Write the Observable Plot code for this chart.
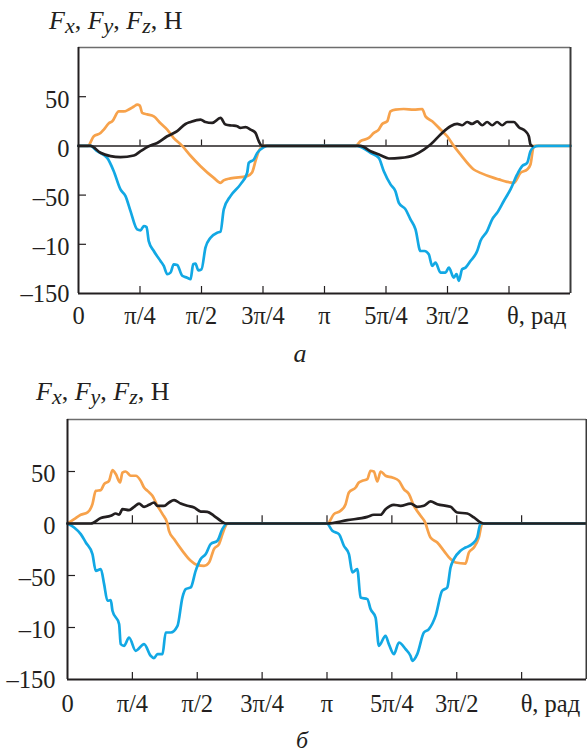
<!DOCTYPE html>
<html>
<head>
<meta charset="utf-8">
<script src="https://cdn.jsdelivr.net/npm/d3@7"></script>
<script src="https://cdn.jsdelivr.net/npm/@observablehq/plot@0.6"></script>
<style>
  body { margin: 0; background: #fff; }
  #wrap { position: relative; width: 587px; height: 756px; overflow: hidden;
          font-family: "Liberation Serif", "Times New Roman", serif; color: #231f20; background: #fff; }
  .title { position: absolute; font-size: 26px; line-height: 26px; white-space: nowrap; }
  .title i { font-style: italic; }
  .title sub { font-size: 22px; vertical-align: -4px; line-height: 0; font-style: italic; }
  .cap { position: absolute; font-style: italic; white-space: nowrap; transform: translateX(-50%); }
  .panel { position: absolute; left: 0; }
  .panel svg { overflow: visible; }
  .panel svg text {
    font-family: "Liberation Serif", "Times New Roman", serif !important;
    font-variant: normal !important;
  }
</style>
</head>
<body>
<div id="wrap">
  <div class="title" id="titleA" style="left:49px; top:8px;"></div>
  <div class="panel" id="panelA" style="top:0px;"></div>
  <div class="cap" id="capA" style="left:300px; top:341px; font-size:26px; line-height:26px;"></div>
  <div class="title" id="titleB" style="left:36px; top:379px;"></div>
  <div class="panel" id="panelB" style="top:372px;"></div>
  <div class="cap" id="capB" style="left:302px; top:728px; font-size:24px; line-height:24px;"></div>
</div>
<script>
// ---------- text ----------
const titleParts = [["F", "x"], ["F", "y"], ["F", "z"]];
const unitLabel = "Н";
const captions = ["а", "б"];
const xTickLabels = ["0", "π/4", "π/2", "3π/4", "π", "5π/4", "3π/2"];
const thetaLabel = "θ, рад";
const yTicks = [50, 0, -50, -100, -150];
const yTickLabels = ["50", "0", "–50", "–10", "–150"];
const yInnerTicks = [50, -50, -100];
const xDomain = [0, 2 * Math.PI];
const yDomain = [-150, 100];

// ---------- data: [angle in degrees, force in N] ----------
// panel а
const aOrange = [[0,0],[6.8,0],[11.2,9.8],[16.1,13],[18.5,16.6],[22.2,23],[24.7,25],[29.5,35],[33.1,35],[36.8,37],[40.5,40],[43,42],[44.9,41],[46.6,33.5],[50.3,32],[55.1,30],[60,23],[64.9,16.6],[69.7,8],[75.9,0],[82,-10],[89.3,-20.6],[99,-32.5],[103.9,-37.5],[106.2,-35],[111.2,-33],[123.4,-30.7],[127,-27],[129.5,-15.5],[131.9,-5.4],[135.6,0],[202.7,0],[206.3,4.8],[212.4,8.1],[216.1,13.2],[219.7,16.6],[222.2,22.3],[225.9,25],[228.3,35.2],[231.9,36.9],[238,37.5],[245.3,36.9],[251.5,37.5],[253.9,30],[258.8,25],[264.9,16.6],[269.8,9.8],[274.6,0],[279.5,-8.7],[289.2,-24],[294.1,-27.4],[303.9,-32.5],[307.5,-34],[313.6,-36.5],[318.5,-37.5],[323.4,-27.4],[328.3,-24],[330.7,-18.9],[332.7,-2],[333.2,0],[360,0]];
const aBlack = [[0,0],[8.8,0],[16.1,-7],[23.4,-10.4],[30.7,-11.5],[40.5,-9.8],[45.4,-5.4],[51.4,-0.3],[57.6,3],[64.9,9.8],[72.2,15],[78.3,22.3],[81.9,24.3],[89.3,26.8],[92.9,24.3],[97.8,23.3],[103.9,28.4],[107.6,21.7],[112.5,20.7],[116.1,20],[118.5,18.3],[122.2,19],[125.9,16.6],[129.5,13.2],[131.9,4.8],[134.4,0],[206.3,0],[213.7,-5.4],[221,-9.4],[227.1,-12.8],[235.6,-12.2],[245.3,-9.4],[252.7,-3.7],[257.6,1.4],[264.9,11.6],[272.2,20],[277.1,22.3],[280.7,21],[284.4,24.3],[288,22.3],[291.7,25],[295.4,21],[299,24.3],[302.7,21],[306.3,24.3],[310,21],[313.6,24.3],[318.5,24.3],[322.2,19],[327.1,14.9],[329.5,9.8],[330.7,1.4],[332,0]];
const aBlue = [[0,0],[8.8,0],[13.7,-5.4],[21,-12.2],[25.8,-25.7],[30.7,-44.2],[34.4,-51],[38,-66],[42.9,-84.8],[45.4,-85.8],[47.8,-81.4],[49.8,-82.5],[51.4,-96.7],[55.1,-106.8],[60,-117],[62.4,-122],[64.9,-130.4],[67.3,-128.8],[69.7,-120.3],[72.2,-121],[75.9,-132],[79.5,-133.9],[82,-135.5],[83.9,-120.3],[85.6,-119.7],[87.6,-126.4],[90,-125.4],[92.9,-103.4],[96.6,-93.3],[101.5,-88.2],[103.9,-87.2],[106.3,-64.5],[111.2,-51],[118.5,-39.1],[123.4,-27.4],[124.6,-17.2],[128.3,-13.8],[130.8,-7.1],[135.6,-1.3],[138.1,0],[203.9,0],[208.8,-2.7],[213.7,-7.1],[219.7,-12.2],[223.4,-25.7],[228.3,-39.1],[231.9,-46],[234.4,-57.8],[239.3,-64.5],[242.9,-74.6],[246.6,-84.8],[250.2,-106.8],[253.2,-106.8],[256.3,-110.1],[258.8,-122],[261.2,-118.7],[264.9,-128.8],[268.5,-128.8],[271,-123.7],[274.6,-133.9],[276.6,-130.4],[278.3,-137.2],[280.7,-125.4],[283.2,-123.7],[286.8,-117],[291.7,-106.8],[294.1,-96.7],[299,-86.5],[302.7,-74.6],[306.3,-68],[311.2,-56],[316.1,-44.2],[321,-29],[324.6,-20.6],[328.3,-17.2],[330.7,-5.4],[333.2,-1.3],[336.6,0],[360,0]];
// panel б
const bOrange = [[0,0],[4.6,4.2],[9.2,8.4],[13.9,10.6],[17.3,18.6],[19.6,31.4],[23.1,32.1],[25.4,37.9],[28.8,41],[31.2,51.3],[33.5,47.5],[36.5,39.4],[38.1,49],[40.4,50],[43.9,45.9],[47.3,45.9],[50.8,41],[53.1,34.6],[55.5,31.4],[58.9,26.6],[62.4,17],[65.9,9],[69.3,0],[70.4,-7],[73.9,-15],[79.7,-26.3],[85.5,-35.9],[90.1,-40],[94.7,-40.7],[98.2,-37.5],[101.6,-24.6],[105.1,-19.8],[107.5,-10.2],[109.7,-2.2],[110.9,0],[180.2,0],[184.8,9],[189.4,12.2],[192.9,18.6],[195.2,29.8],[199.9,34.6],[202.1,39.4],[204.5,41],[208,42.7],[210.2,50.7],[212.5,50],[214.9,40.4],[217.2,50],[220.6,45.9],[225.3,44.2],[229.9,41],[233.3,33.1],[236.8,28.3],[240.3,17],[244.9,7.4],[248.4,0],[249.6,-5.4],[251.8,-13.5],[256.5,-18.3],[261.1,-26.3],[265.7,-34.2],[269.2,-37.5],[276.1,-38.5],[278.4,-27.9],[281.9,-23.1],[285.3,-13.5],[287.7,0],[360,0]];
const bBlack = [[0,0],[16.2,0],[23.1,5.2],[30,7.4],[33.5,9.6],[35.8,8.4],[38.1,13.8],[42.7,12.9],[46.2,16],[49.6,19.2],[53.1,16],[56.6,18],[60,20.2],[62.4,17],[67,17],[70.4,20.2],[73.9,22.5],[78.5,19.2],[83.2,17],[87.8,15.4],[92.4,11.5],[97,11.2],[101.6,7.4],[106.3,2.6],[109.7,0],[180.2,0],[194.1,3.2],[208,6.4],[212.5,8.4],[217.2,8.4],[220.6,13.8],[226.4,18],[231,17],[237.9,19.2],[242.6,16],[247.2,17],[251.8,21.2],[256.5,18.6],[265.7,16],[270.3,10.6],[277.3,9.6],[281.9,5.8],[286.5,1],[288.8,0],[360,0]];
const bBlue = [[0,0],[4.6,-3.8],[9.2,-10.2],[12.7,-18.3],[17.3,-29.4],[19.6,-45.5],[23.1,-43.8],[25.4,-58.3],[27.7,-74.3],[30,-73.7],[31.2,-83.9],[35.8,-96.7],[36.9,-116],[39.2,-117.6],[42.7,-109.6],[47.3,-122.4],[53.1,-116],[57.7,-127.2],[60,-129.4],[62.4,-125.6],[65.9,-125.6],[68.1,-104.8],[71.6,-104.8],[76.3,-98.4],[79.7,-71.2],[82,-63.1],[85.5,-61.5],[88.9,-45.5],[92.4,-34.2],[95.9,-29.4],[99.3,-19.8],[104,-16.6],[107.4,-5.4],[110.9,0],[179.8,0],[183.7,-7],[188.3,-10.2],[191.7,-21.4],[195.2,-29.4],[197.6,-47.1],[201,-43.8],[203.3,-71.2],[208,-72.7],[210.2,-82.3],[213.7,-90.4],[216,-117.6],[220.6,-108],[222.9,-116],[226.4,-125.6],[229.9,-114.4],[234.5,-120.8],[237.9,-127.2],[239.2,-132],[242.6,-125.6],[247.2,-104.8],[250.7,-101.5],[255.3,-88.8],[259.9,-64.7],[263.4,-61.5],[265.7,-42.3],[268,-34.2],[272.6,-26.3],[276.1,-23.1],[280.7,-19.8],[284.2,-13.5],[286.5,0],[360,0]];

// ---------- styling ----------
const ink = "#231f20";
const colOrange = "#f7a24b";
const colBlue = "#12a8e4";
const colBlack = "#231f20";
const serif = '"Liberation Serif", "Times New Roman", serif';

const q = Math.PI / 4;
const innerTicks = [1, 2, 3, 4, 5, 6, 7].map(k => k * q);
const xLabelPos = xTickLabels.map((_, k) => k * q);
const thetaPos = 7 * q;
const toRows = arr => arr.map(([deg, f]) => ({x: deg * Math.PI / 180, y: f}));

function panel(cfg) {
  const series = [[cfg.orange, colOrange], [cfg.blue, colBlue], [cfg.black, colBlack]];
  const txt = {fontFamily: serif, fontSize: 24.5, fill: ink};
  return Plot.plot({
    width: 587,
    height: cfg.height,
    marginTop: 47,
    marginBottom: 77,
    marginLeft: cfg.marginLeft,
    marginRight: cfg.marginRight,
    x: {domain: xDomain, label: null},
    y: {domain: yDomain, label: null},
    style: {fontFamily: serif, fontSize: "24px", color: ink, background: "transparent", overflow: "visible"},
    marks: [
      Plot.ruleY([0], {stroke: ink, strokeWidth: 1.5}),
      Plot.ruleX(innerTicks, {y1: 0, y2: cfg.zeroTick, stroke: ink, strokeWidth: 1.2}),
      Plot.axisX(innerTicks, {tickSize: -7, tickFormat: () => "", stroke: ink, strokeWidth: 1.2}),
      Plot.axisY(yInnerTicks, {tickSize: -8, tickFormat: () => "", stroke: ink, strokeWidth: 1.2}),
      Plot.axisX(xLabelPos, {...txt, tickSize: 0, tickPadding: cfg.xPad,
        tickFormat: d => xTickLabels[Math.round(d / q)]}),
      Plot.axisX([thetaPos], {...txt, tickSize: 0, tickPadding: cfg.xPad, textAnchor: "start", dx: cfg.thetaDx,
        tickFormat: () => thetaLabel}),
      Plot.axisY(yTicks.slice(0, 4), {...txt, tickSize: 0, tickPadding: cfg.yPad, dy: 3,
        tickFormat: d => yTickLabels[yTicks.indexOf(d)]}),
      Plot.axisY(yTicks.slice(4), {...txt, tickSize: 0, tickPadding: cfg.yPad, dy: 0.5,
        tickFormat: d => yTickLabels[yTicks.indexOf(d)]}),
      ...series.map(([arr, c]) => Plot.line(toRows(arr), {x: "x", y: "y", stroke: c, strokeWidth: 2.7, curve: "monotone-x", strokeLinejoin: "round"})),
      Plot.ruleY([yDomain[1]], {stroke: "#6d6d6d", strokeWidth: 1.4}),
      Plot.ruleX([xDomain[1]], {stroke: "#3a3a3a", strokeWidth: 2}),
      Plot.ruleX([xDomain[0]], {stroke: ink, strokeWidth: 2}),
      Plot.ruleY([yDomain[0]], {stroke: ink, strokeWidth: 2})
    ]
  });
}

document.getElementById("panelA").appendChild(panel({
  orange: aOrange, blue: aBlue, black: aBlack,
  height: 370, marginLeft: 78, marginRight: 17,
  zeroTick: 6, xPad: 13, yPad: 9, thetaDx: -2
}));
document.getElementById("panelB").appendChild(panel({
  orange: bOrange, blue: bBlue, black: bBlack,
  height: 384, marginLeft: 67, marginRight: 1,
  zeroTick: 7.5, xPad: 15, yPad: 12, thetaDx: -1
}));

const titleHTML = titleParts.map(([f, s]) => `<i>${f}</i><sub>${s}</sub>`).join(", ") + ", " + unitLabel;
document.getElementById("titleA").innerHTML = titleHTML;
document.getElementById("titleB").innerHTML = titleHTML;
document.getElementById("capA").textContent = captions[0];
document.getElementById("capB").textContent = captions[1];
</script>
</body>
</html>
